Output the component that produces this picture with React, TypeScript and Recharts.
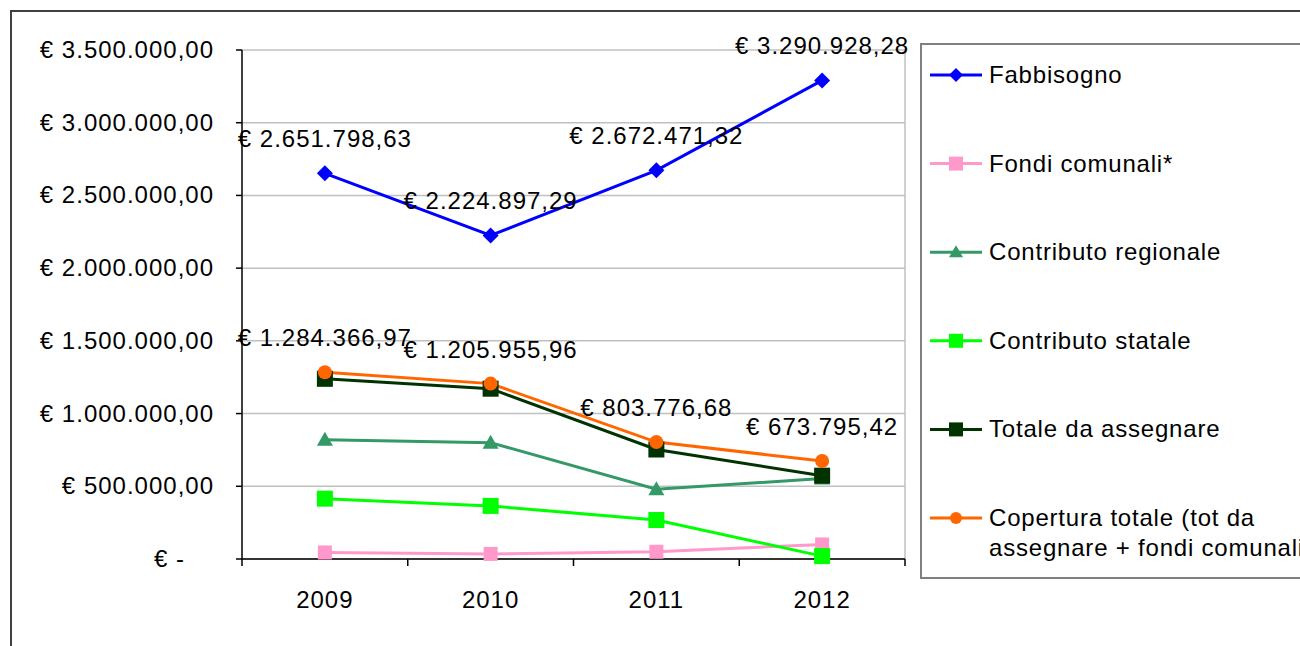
import React from 'react'
import { LineChart, Line, XAxis, YAxis, CartesianGrid, LabelList } from 'recharts'

const years = ['2009', '2010', '2011', '2012']
const fabbisogno = [2651798.63, 2224897.29, 2672471.32, 3290928.28]
const fondiComunali = [45000, 35000, 50000, 100000]
const contributoRegionale = [820000, 800000, 480000, 553000]
const contributoStatale = [415000, 365000, 268000, 20000]
const totaleDaAssegnare = [1239000, 1171000, 753000, 573000]
const coperturaTotale = [1284366.97, 1205955.96, 803776.68, 673795.42]
const yTicks = [0, 500000, 1000000, 1500000, 2000000, 2500000, 3000000, 3500000]

const W = 1300
const H = 646
const PLOT_LEFT = 242
const PLOT_RIGHT = 905
const PLOT_TOP = 50
const PLOT_BOTTOM = 559
const HALF_STEP = (PLOT_RIGHT - PLOT_LEFT) / (years.length * 2)
const FONT = '"Liberation Sans", Arial, sans-serif'
const FS = 24
const LS = 1

type Shape = 'diamond' | 'square' | 'triangle' | 'circle'

const series: { key: string; name: string[]; color: string; shape: Shape; size: number; labels?: boolean }[] = [
  { key: 'fabbisogno', name: ['Fabbisogno'], color: '#0000ff', shape: 'diamond', size: 16, labels: true },
  { key: 'fondi', name: ['Fondi comunali*'], color: '#ff99cc', shape: 'square', size: 14 },
  { key: 'regionale', name: ['Contributo regionale'], color: '#339966', shape: 'triangle', size: 16 },
  { key: 'statale', name: ['Contributo statale'], color: '#00ff00', shape: 'square', size: 16 },
  { key: 'totale', name: ['Totale da assegnare'], color: '#003300', shape: 'square', size: 16 },
  {
    key: 'copertura',
    name: ['Copertura totale (tot da', 'assegnare + fondi comunali)'],
    color: '#ff6600',
    shape: 'circle',
    size: 14,
    labels: true,
  },
]

const data = years.map((year, i) => ({
  year,
  fabbisogno: fabbisogno[i],
  fondi: fondiComunali[i],
  regionale: contributoRegionale[i],
  statale: contributoStatale[i],
  totale: totaleDaAssegnare[i],
  copertura: coperturaTotale[i],
}))

function euro(v: number): string {
  if (v === 0) return '€ -'
  const [int, dec] = v.toFixed(2).split('.')
  return '€ ' + int.replace(/\B(?=(\d{3})+(?!\d))/g, '.') + ',' + dec
}

function marker(shape: Shape, cx: number, cy: number, size: number, color: string, key?: string) {
  const h = size / 2
  if (shape === 'diamond') {
    return <polygon key={key} points={`${cx},${cy - h} ${cx + h},${cy} ${cx},${cy + h} ${cx - h},${cy}`} fill={color} />
  }
  if (shape === 'square') {
    return <rect key={key} x={cx - h} y={cy - h} width={size} height={size} fill={color} />
  }
  if (shape === 'triangle') {
    return <polygon key={key} points={`${cx},${cy - h} ${cx + h},${cy + h - 2} ${cx - h},${cy + h - 2}`} fill={color} />
  }
  return <circle key={key} cx={cx} cy={cy} r={h} fill={color} />
}

const textStyle = { fontSize: FS, fontFamily: FONT, letterSpacing: LS }

const XTick = (props: any) => {
  const { x, y, payload, index } = props
  return (
    <g>
      <line x1={x - HALF_STEP} x2={x - HALF_STEP} y1={y} y2={y + 7} stroke="#000" strokeWidth={1.5} />
      {index === years.length - 1 && (
        <line x1={x + HALF_STEP} x2={x + HALF_STEP} y1={y} y2={y + 7} stroke="#000" strokeWidth={1.5} />
      )}
      <text x={x} y={y + 49} textAnchor="middle" style={textStyle} fill="#000">
        {payload.value}
      </text>
    </g>
  )
}

const YTick = (props: any) => {
  const { x, y, payload } = props
  const zero = payload.value === 0
  return (
    <g>
      <line x1={x - 6} x2={x} y1={y} y2={y} stroke="#000" strokeWidth={1.5} />
      <text x={zero ? x - 57 : x - 28} y={y + 8} textAnchor="end" style={textStyle} fill="#000">
        {euro(payload.value)}
      </text>
    </g>
  )
}

const DataLabel = (props: any) => {
  const { x, y, value } = props
  return (
    <text x={x} y={y - 26} textAnchor="middle" style={textStyle} fill="#000">
      {euro(value)}
    </text>
  )
}

// legend sits outside the chart so it doesn't eat into the plot area
function ChartLegend() {
  return (
    <svg width={420} height={536} style={{ position: 'absolute', left: 920, top: 43 }}>
      <rect x={1} y={1} width={440} height={534} fill="#fff" stroke="#808080" strokeWidth={2} />
      {series.map((s, i) => {
        const cy = 32 + i * 88.6
        return (
          <g key={s.key}>
            <line x1={10} x2={62} y1={cy} y2={cy} stroke={s.color} strokeWidth={3} />
            {marker(s.shape, 36, cy, s.shape === 'circle' ? 12 : 14, s.color)}
            {s.name.map((line, j) => (
              <text key={j} x={69} y={cy + 8 + j * 30} style={{ ...textStyle, letterSpacing: 0.8 }} fill="#000">
                {line}
              </text>
            ))}
          </g>
        )
      })}
    </svg>
  )
}

export default function App() {
  return (
    <div style={{ position: 'absolute', left: 0, top: 0, width: W, height: H, overflow: 'hidden', background: '#fff' }}>
      <div
        style={{
          position: 'absolute',
          left: 10,
          top: 10,
          width: 1400,
          height: 800,
          borderTop: '2px solid #404040',
          borderLeft: '2px solid #404040',
        }}
      />
      <div style={{ position: 'absolute', left: 0, top: 0 }}>
        <LineChart
          width={W}
          height={H}
          data={data}
          margin={{ top: PLOT_TOP, right: W - PLOT_RIGHT, bottom: 27, left: 0 }}
        >
          <CartesianGrid
            stroke="#c0c0c0"
            strokeWidth={1.5}
            verticalCoordinatesGenerator={({ offset }: any) => [offset.left + offset.width]}
          />
          <XAxis
            dataKey="year"
            height={H - PLOT_BOTTOM - 27}
            padding={{ left: HALF_STEP, right: HALF_STEP }}
            tickSize={0}
            tickMargin={0}
            tickLine={false}
            axisLine={{ stroke: '#000', strokeWidth: 1.5 }}
            tick={<XTick />}
            interval={0}
          />
          <YAxis
            width={PLOT_LEFT}
            domain={[0, 3500000]}
            ticks={yTicks}
            tickSize={0}
            tickMargin={0}
            tickLine={false}
            axisLine={{ stroke: '#000', strokeWidth: 1.5 }}
            tick={<YTick />}
            interval={0}
          />
          {series.map(s => (
            <Line
              key={s.key}
              type="linear"
              dataKey={s.key}
              stroke={s.color}
              strokeWidth={3}
              isAnimationActive={false}
              dot={(p: any) => marker(s.shape, p.cx, p.cy, s.size, s.color, `${s.key}-${p.index}`)}
              activeDot={false}
            >
              {s.labels && <LabelList dataKey={s.key} content={<DataLabel />} />}
            </Line>
          ))}
        </LineChart>
      </div>
      <ChartLegend />
    </div>
  )
}
